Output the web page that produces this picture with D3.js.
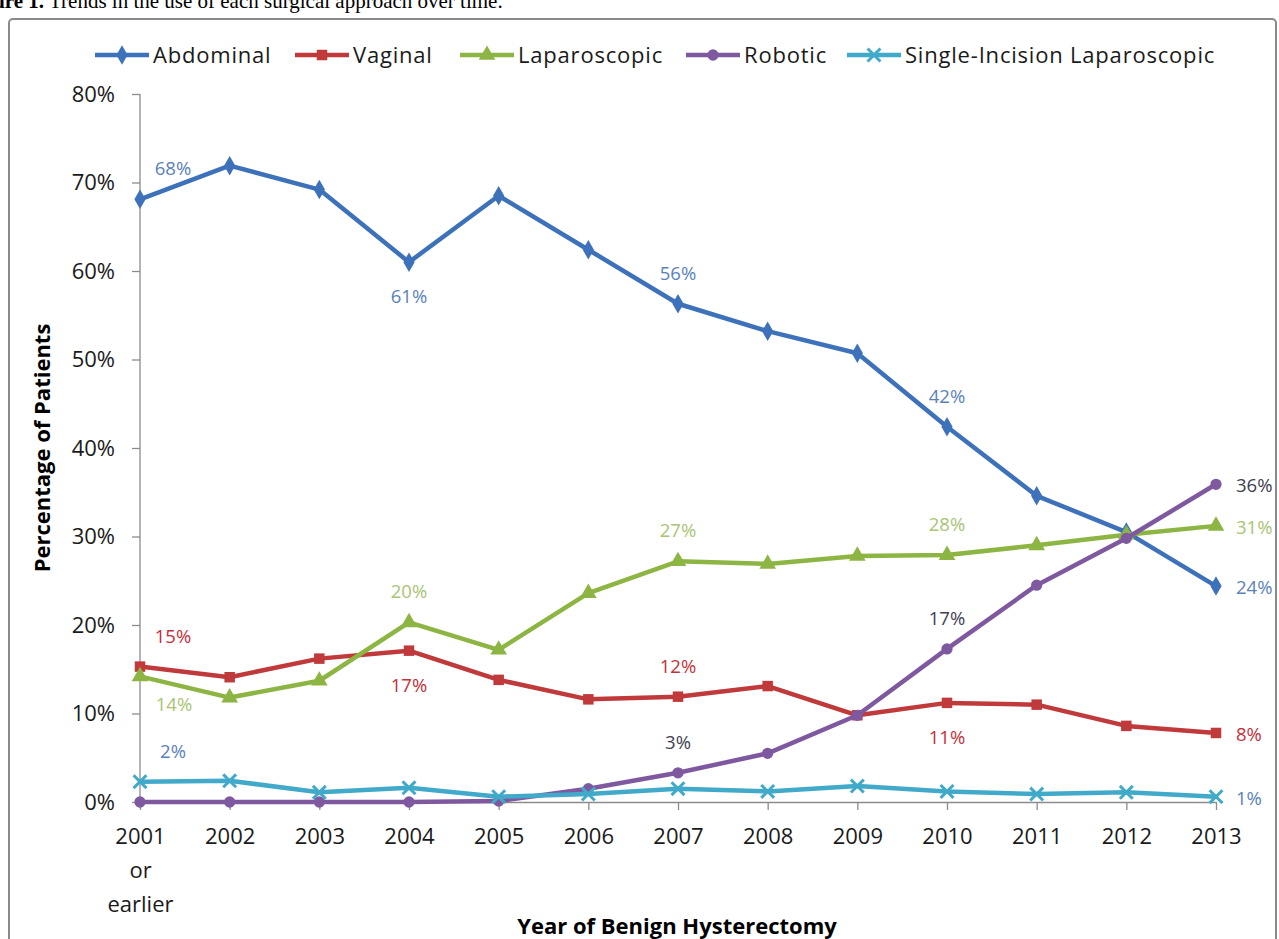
<!DOCTYPE html>
<html>
<head>
<meta charset="utf-8">
<script src="https://cdn.jsdelivr.net/npm/d3@7"></script>
<style>
  body { margin: 0; background: #fff; overflow: hidden; }
  svg text { font-family: "Open Sans", "Noto Sans", sans-serif; }
</style>
</head>
<body>
<svg id="chart"></svg>
<script>
// Data
const years = ["2001", "2002", "2003", "2004", "2005", "2006", "2007", "2008", "2009", "2010", "2011", "2012", "2013"];
const yTicks = [0, 10, 20, 30, 40, 50, 60, 70, 80];
const seriesNames = ["Abdominal", "Vaginal", "Laparoscopic", "Robotic", "Single-Incision Laparoscopic"];

const abdominal = [68.1, 71.9, 69.2, 61.0, 68.5, 62.4, 56.3, 53.2, 50.7, 42.4, 34.6, 30.5, 24.4];
const vaginal = [15.3, 14.1, 16.2, 17.1, 13.8, 11.6, 11.9, 13.1, 9.8, 11.2, 11.0, 8.6, 7.8];
const laparoscopic = [14.2, 11.8, 13.7, 20.3, 17.2, 23.6, 27.2, 26.9, 27.8, 27.9, 29.0, 30.2, 31.2];
const robotic = [0, 0, 0, 0, 0.1, 1.5, 3.3, 5.5, 9.8, 17.3, 24.5, 29.8, 35.9];
const singleIncision = [2.3, 2.4, 1.1, 1.6, 0.6, 0.9, 1.5, 1.2, 1.8, 1.2, 0.9, 1.1, 0.6];

// data labels: [series index, year index, text, placement]
const labels = [
  [0, 0, "68%", "ur"], [0, 3, "61%", "below"], [0, 6, "56%", "above"], [0, 9, "42%", "above"], [0, 12, "24%", "right"],
  [1, 0, "15%", "ur"], [1, 3, "17%", "below"], [1, 6, "12%", "above"], [1, 9, "11%", "below"], [1, 12, "8%", "right"],
  [2, 0, "14%", "dr"], [2, 3, "20%", "above"], [2, 6, "27%", "above"], [2, 9, "28%", "above"], [2, 12, "31%", "right"],
  [3, 6, "3%", "above"], [3, 9, "17%", "above"], [3, 12, "36%", "right"],
  [4, 0, "2%", "ur"], [4, 12, "1%", "right"]
];

const width = 1279, height = 939;
const margin = {top: 94, bottom: 137, left: 140, right: 63};

const svg = d3.select("#chart")
  .attr("width", width)
  .attr("height", height);

const lineColors = ["#3d72bb", "#c0393b", "#8db543", "#7f59a0", "#41a9c9"];
const labelColors = ["#5a82ba", "#c2313b", "#a9c474", "#404052", "#5a82ba"];
const symbols = [d3.symbolDiamond, d3.symbolSquare, d3.symbolTriangle, d3.symbolCircle, d3.symbolTimes];
const symbolSizes = [110, 110, 120, 100, 110];

const allSeries = [abdominal, vaginal, laparoscopic, robotic, singleIncision];

// caption above the frame (cut off in the original)
svg.append("text")
  .attr("x", -36)
  .attr("y", 8)
  .style("font-family", "'Liberation Serif', serif")
  .style("font-size", "21px")
  .html("<tspan font-weight='bold'>Figure 1.</tspan>  Trends in the use of each surgical approach over time.");

// frame
svg.append("rect")
  .attr("x", 9).attr("y", 19)
  .attr("width", 1267).attr("height", 940)
  .attr("rx", 4)
  .attr("fill", "none")
  .attr("stroke", "#8a8a8a")
  .attr("stroke-width", 2);

const xScale = d3.scalePoint()
  .domain(years)
  .range([margin.left, width - margin.right]);

const yScale = d3.scaleLinear()
  .domain([0, 80])
  .range([height - margin.bottom, margin.top]);

// y axis
const yAxis = svg.append("g")
  .attr("transform", `translate(${margin.left},0)`)
  .call(d3.axisLeft(yScale).tickValues(yTicks).tickFormat(d => d + "%").tickSize(8).tickPadding(17));

// x axis
const xAxis = svg.append("g")
  .attr("transform", `translate(0,${height - margin.bottom})`)
  .call(d3.axisBottom(xScale).tickSize(8).tickPadding(18).tickSizeOuter(0));

[yAxis, xAxis].forEach(ax => {
  ax.select(".domain").attr("stroke", "#8c8c8c").attr("stroke-width", 1.3);
  ax.selectAll(".tick line").attr("stroke", "#8c8c8c").attr("stroke-width", 1.3);
  ax.selectAll(".tick text").attr("fill", "#1a1a1a").style("font-size", "22px");
});
yAxis.select(".domain").attr("d", `M0,${yScale(80)}V${yScale(0)}`);

// extra lines under the first year label
const firstTick = xAxis.selectAll(".tick text").filter(d => d === "2001");
firstTick.append("tspan").attr("x", 0).attr("dy", "1.55em").text("or");
firstTick.append("tspan").attr("x", 0).attr("dy", "1.55em").text("earlier");

// axis titles
svg.append("text")
  .attr("transform", `translate(50,${(yScale(0) + yScale(80)) / 2}) rotate(-90)`)
  .attr("text-anchor", "middle")
  .style("font-size", "22px")
  .style("font-weight", "bold")
  .text("Percentage of Patients");

svg.append("text")
  .attr("x", 677)
  .attr("y", 934)
  .attr("text-anchor", "middle")
  .style("font-size", "22px")
  .style("font-weight", "bold")
  .text("Year of Benign Hysterectomy");

// lines
const line = d3.line()
  .x((d, i) => xScale(years[i]))
  .y(d => yScale(d));

allSeries.forEach((values, s) => {
  const g = svg.append("g");
  g.append("path")
    .datum(values)
    .attr("d", line)
    .attr("fill", "none")
    .attr("stroke", lineColors[s])
    .attr("stroke-width", 4.5)
    .attr("stroke-linejoin", "round");

  g.selectAll("path.marker")
    .data(values)
    .enter().append("path")
    .attr("class", "marker")
    .attr("transform", (d, i) => `translate(${xScale(years[i])},${yScale(d)})`)
    .attr("d", d3.symbol().type(symbols[s]).size(symbolSizes[s]))
    .attr("fill", s === 4 ? "none" : lineColors[s])
    .attr("stroke", lineColors[s])
    .attr("stroke-width", s === 4 ? 3 : 0);
});

// data labels
const offsets = {
  ur: [33, -24, "middle"],
  dr: [34, 35, "middle"],
  above: [0, -24, "middle"],
  below: [0, 41, "middle"],
  right: [20, 8, "start"]
};
svg.selectAll("text.dlabel")
  .data(labels)
  .enter().append("text")
  .attr("class", "dlabel")
  .attr("x", d => xScale(years[d[1]]) + offsets[d[3]][0])
  .attr("y", d => yScale(allSeries[d[0]][d[1]]) + offsets[d[3]][1])
  .attr("text-anchor", d => offsets[d[3]][2])
  .attr("fill", d => labelColors[d[0]])
  .style("font-size", "18.5px")
  .text(d => d[2]);

// legend
const legendX = [95, 295, 460, 686, 847];
const legend = svg.selectAll(".legend")
  .data(seriesNames)
  .enter().append("g")
  .attr("class", "legend")
  .attr("transform", (d, i) => `translate(${legendX[i]},55)`);

legend.append("line")
  .attr("x1", 0).attr("x2", 54)
  .attr("stroke", (d, i) => lineColors[i])
  .attr("stroke-width", 4.5);

legend.append("path")
  .attr("transform", "translate(27,0)")
  .attr("d", (d, i) => d3.symbol().type(symbols[i]).size(symbolSizes[i])())
  .attr("fill", (d, i) => i === 4 ? "none" : lineColors[i])
  .attr("stroke", (d, i) => lineColors[i])
  .attr("stroke-width", (d, i) => i === 4 ? 3 : 0);

legend.append("text")
  .attr("x", 58)
  .attr("y", 0)
  .attr("dy", "0.35em")
  .attr("fill", "#1a1a1a")
  .style("font-size", "22px")
  .style("letter-spacing", "0.8px")
  .text(d => d);
</script>
</body>
</html>
